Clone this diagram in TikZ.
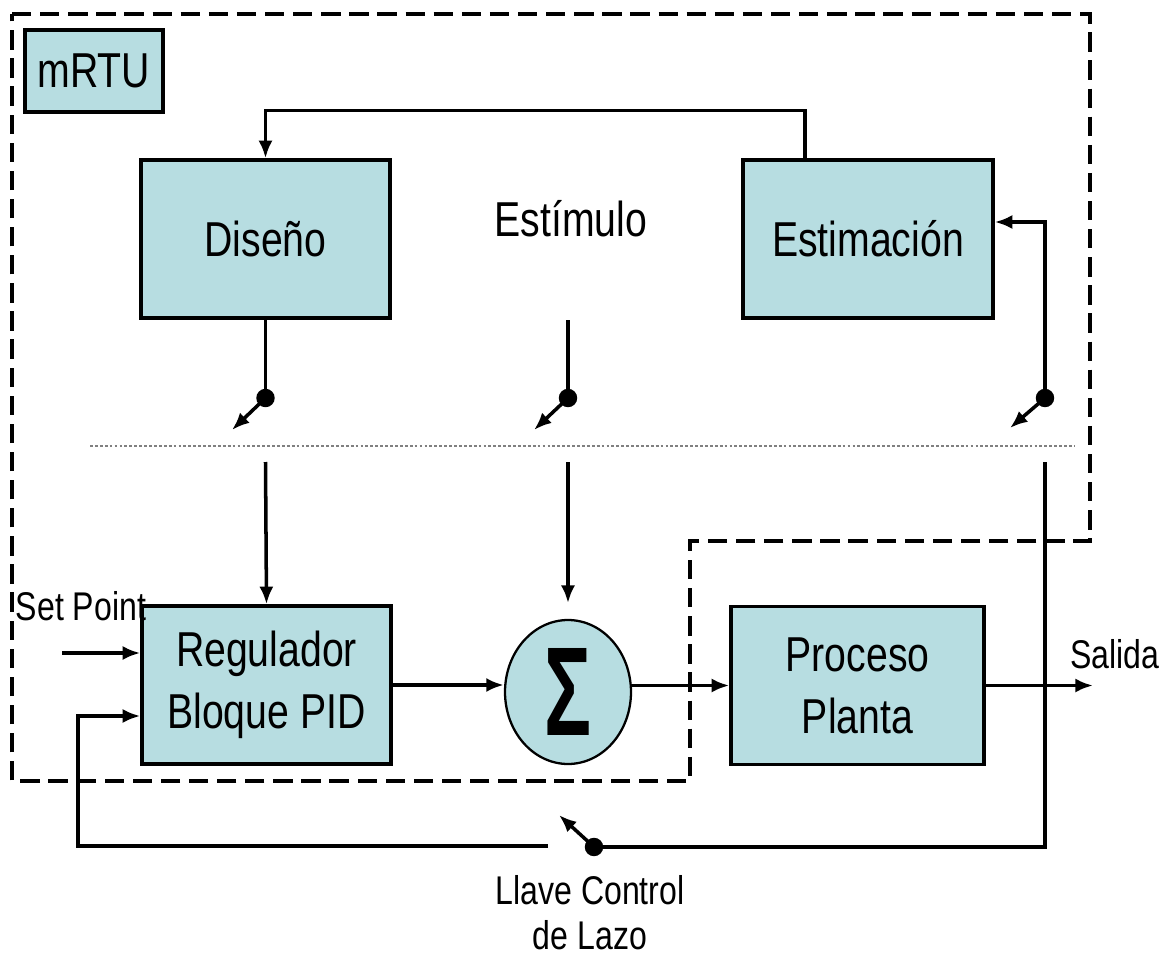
\documentclass[tikz,border=0pt]{standalone}
\usepackage{fontspec}
\setmainfont{Liberation Sans}
\newfontfamily\lblfont[FakeStretch=0.8]{Liberation Sans}
\newfontfamily\sigmafont[FakeStretch=0.62]{Liberation Sans}
\usetikzlibrary{arrows.meta,shapes.geometric}
\definecolor{boxfill}{RGB}{183,221,225}

\begin{document}
\begin{tikzpicture}[x=0.02cm,y=-0.02cm,
  blk/.style={draw, line width=2pt, fill=boxfill, minimum width=4.98cm,
    minimum height=3.16cm, inner sep=0, align=center,
    font=\lblfont\fontsize{27.9}{35.3}\selectfont},
  wire/.style={line width=2pt},
  arr/.style={wire, -{Latex[length=10pt,width=8pt]}},
  pivot/.style={circle, fill, inner sep=0, minimum size=10.5pt},
  lbl/.style={inner sep=0, align=center, font=\lblfont\fontsize{22.8}{25.6}\selectfont},
  border/.style={line width=1.9pt, dash pattern=on 11pt off 5pt},
  sepline/.style={line width=1.4pt, gray, dash pattern=on 1.6pt off 1.2pt}
]
\useasboundingbox (0,0) rectangle (1171,957);

% mRTU boundary
\draw[border] (12,14) -- (1090,14) -- (1090,541) -- (690,541) -- (690,781) -- (12,781) -- cycle;

% blocks
\node[blk, minimum width=2.76cm, minimum height=1.64cm] (mrtu) at (94,71) {mRTU};
\node[blk] (dis) at (265.5,239) {Diseño};
\node[blk, minimum width=5cm] (est) at (868,239) {Estimación};
\node[blk] (reg) at (266.5,685) {Regulador\\Bloque PID};
\node[blk, minimum width=5.06cm] (proc) at (857.5,685.5) {Proceso\\Planta};
\node[ellipse, draw, line width=1.3pt, fill=boxfill, minimum width=2.52cm,
  minimum height=2.88cm, inner sep=0] (sigma) at (568,692)
  {\sigmafont\bfseries\fontsize{72}{72}\selectfont Σ};

% labels
\node[font=\lblfont\fontsize{27.9}{35.3}\selectfont, inner sep=0] (stim) at (571,219) {Estímulo};
\node[lbl] (sp) at (81,606) {Set Point};
\node[lbl] (salida) at (1115,654) {Salida};
\node[lbl] (llave) at (590,913) {Llave Control\\de Lazo};

% separator between the design level and the loop
\draw[sepline] (90,446) -- (1075,446);

% switches
\node[pivot] (p1) at (265.5,398) {};
\node[pivot] (p2) at (568,398) {};
\node[pivot] (p3) at (1045,398) {};
\node[pivot] (p4) at (594,847) {};
\coordinate (t1) at (232,430);
\coordinate (t2) at (534,430);
\coordinate (t3) at (1010,428);
\coordinate (t4) at (559,815);
\coordinate (s2) at (568,320);
\coordinate (b1) at (265.5,462);
\coordinate (b2) at (568,462);
\coordinate (b3) at (1045,462);
\coordinate (f4) at (548,846);
\coordinate (fl) at (78,846);
\coordinate (spin) at (62,653);
\coordinate (out) at (1093,686);

% upper level
\draw[arr] ([xshift=-1.26cm]est.north) -- ++(0,-48) -| (dis.north);
\draw[wire] (dis.south) -- (p1.center);
\draw[wire] (s2) -- (p2.center);
\draw[arr] (p3.center) |- ([yshift=0.34cm]est.east);
\draw[arr] (p1.center) -- (t1);
\draw[arr] (p2.center) -- (t2);
\draw[arr] (p3.center) -- (t3);

% control loop
\draw[arr] (b1) -- (reg.north);
\draw[arr, shorten >=9pt] (b2) -- (sigma.north);
\draw[arr] (spin) -- (spin -| reg.west);
\draw[arr] (reg.east) -- (reg.east -| sigma.west);
\draw[arr] (sigma.east |- proc.west) -- (proc.west);
\draw[arr] (proc.east) -- (proc.east -| out);
\draw[wire] (b3) |- (p4.center);
\draw[arr] (p4.center) -- (t4);
\draw[arr] (f4) -- (fl) |- ([yshift=-0.62cm]reg.west);
\end{tikzpicture}
\end{document}
